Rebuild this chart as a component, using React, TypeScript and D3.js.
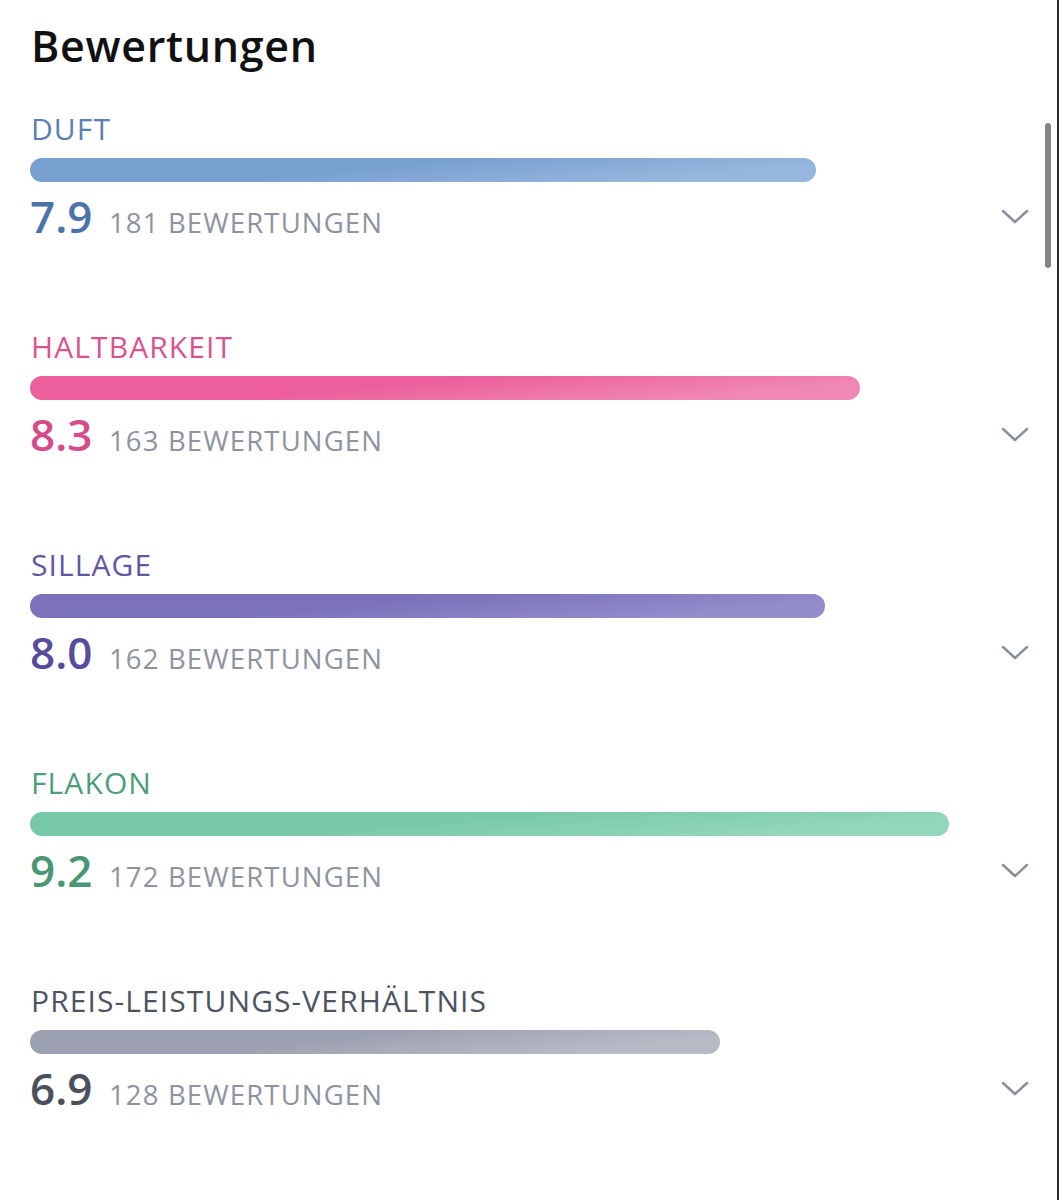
import React from "react";
import * as d3 from "d3";

const categories = ["DUFT", "HALTBARKEIT", "SILLAGE", "FLAKON", "PREIS-LEISTUNGS-VERHÄLTNIS"];
const scoreLabels = ["7.9", "8.3", "8.0", "9.2", "6.9"];
const barScores = [7.86, 8.3, 7.95, 9.19, 6.9];
const counts = [181, 163, 162, 172, 128];
const barBase = ["#78a0d0", "#ec5f9c", "#7b72bb", "#78c9a7", "#9ca1b1"];
const barLight = ["#97b6dd", "#f088b5", "#938cca", "#93d7ba", "#b7bbc6"];
const labelColors = ["#5b7fb3", "#d9548f", "#5f57a0", "#4f9c7d", "#4d5360"];
const valueColors = ["#4c74aa", "#d64b89", "#574c9c", "#4a9677", "#4a505c"];

const W = 1059;
const H = 1200;
const FONT = "'Open Sans', 'Noto Sans', sans-serif";

export default function App() {
  const x = d3.scaleLinear().domain([0, 10]).range([30, 1030]);
  const y = d3.scalePoint<string>().domain(categories).range([140, 140 + 218 * 4]);
  const barH = 24;

  return (
    <div style={{ position: "absolute", left: 0, top: 0, background: "#fff" }}>
      <svg width={W} height={H} style={{ display: "block" }}>
        <defs>
          {categories.map((c, i) => (
            <linearGradient key={c} id={`g${i}`} x1="0" y1="0" x2="1" y2="0.3">
              <stop offset="0" stopColor={barBase[i]} />
              <stop offset="0.5" stopColor={barBase[i]} />
              <stop offset="1" stopColor={barLight[i]} />
            </linearGradient>
          ))}
        </defs>
        <rect width={W} height={H} fill="#fff" />
        <text x={31} y={62} fontFamily={FONT} fontWeight={600} fontSize={43} letterSpacing={0.7} fill="#111">
          Bewertungen
        </text>
        {categories.map((c, i) => {
          const base = y(c)!;
          const barTop = base + 18;
          const valY = base + 93;
          const chevY = base + 77;
          return (
            <g key={c}>
              <text x={31} y={base} fontFamily={FONT} fontSize={30} letterSpacing={1.1} fill={labelColors[i]}>
                {c}
              </text>
              <rect
                x={x(0)}
                y={barTop}
                width={x(barScores[i]) - x(0)}
                height={barH}
                rx={barH / 2}
                fill={`url(#g${i})`}
              />
              <text x={30} y={valY} fontFamily={FONT} fontWeight={600} fontSize={44} fill={valueColors[i]}>
                {scoreLabels[i]}
              </text>
              <text x={109} y={valY} fontFamily={FONT} fontSize={27.5} letterSpacing={1.15} fill="#8e93a0">
                {`${counts[i]} BEWERTUNGEN`}
              </text>
              <path
                d={`M1003,${chevY - 6} L1015,${chevY + 5} L1027,${chevY - 6}`}
                fill="none"
                stroke="#8a8f9c"
                strokeWidth={2.5}
                strokeLinecap="round"
                strokeLinejoin="round"
              />
            </g>
          );
        })}
        <rect x={1045} y={123} width={6} height={145} rx={3} fill="#858585" />
        <rect x={1057} y={0} width={2} height={H} fill="#2b2b2b" />
      </svg>
    </div>
  );
}
